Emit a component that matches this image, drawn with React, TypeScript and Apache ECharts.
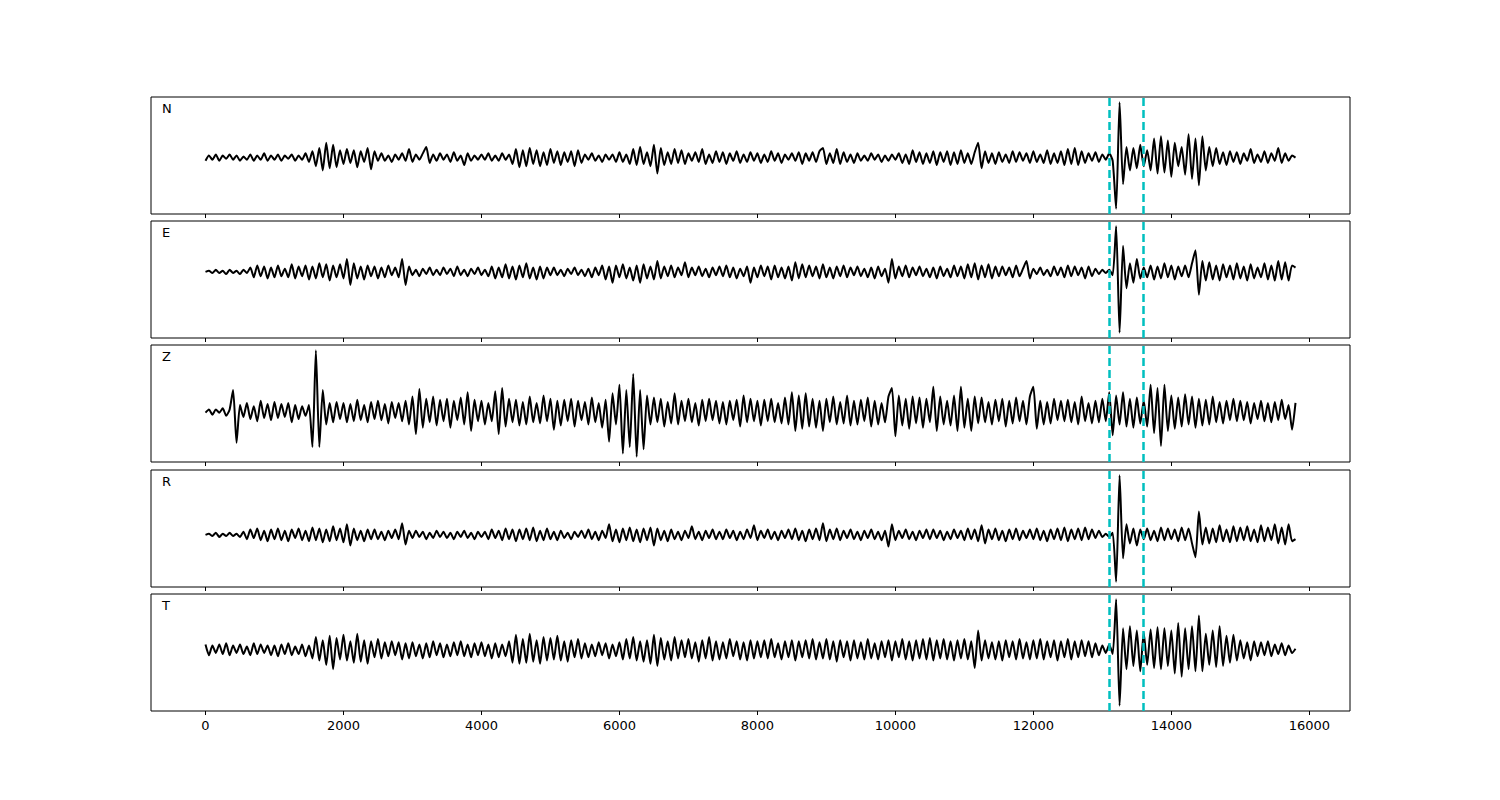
import React, { useEffect, useRef } from "react";
import * as echarts from "echarts";

// sample spacing of the traces (x units)
const STEP = 50;

const components = ["N", "E", "Z", "R", "T"];
const pickTimes = [13100, 13600];
const xTicks = [0, 2000, 4000, 6000, 8000, 10000, 12000, 14000, 16000];

// amplitudes (arbitrary units), one value every STEP
const traceN = [
  -3, 2, -2, 3, -3, 2, -1, 3, -2, 2,
  -3, 1, -2, 3, -3, 2, -2, 4, -3, 2,
  -2, 3, -3, 2, -1, 3, -3, 2, -2, 4,
  -4, 6, -8, 9, -12, 14, -10, 12, -9, 7,
  -6, 8, -5, 7, -9, 6, -4, 9, -11, 6,
  -3, 4, -3, 2, -4, 3, -2, 4, -3, 8,
  -4, 3, -2, 4, 10, -5, 3, -3, 4, -2,
  3, -4, 5, -3, 2, -7, 4, -3, 2, -2,
  3, -2, 4, -3, 2, -3, 4, -2, 3, -6,
  8, -9, 7, -8, 9, -6, 7, -8, 5, -7,
  8, -5, 6, -7, 5, -4, 6, -8, 7, -5,
  3, -2, 4, -3, 2, -4, 3, -2, 3, -4,
  5, -4, 3, -6, 8, -7, 10, -6, 5, -8,
  12, -15, 9, -7, 5, -6, 8, -5, 7, -6,
  4, -3, 5, -4, 8, -6, 3, -5, 6, -4,
  5, -6, 4, -3, 6, -5, 3, -4, 5, -3,
  4, -5, 3, -4, 6, -3, 4, -5, 3, -2,
  4, -3, 5, -6, 4, -3, 5, -4, 6, 9,
  -6, 4, -5, 8, -6, 5, -4, 3, -5, 4,
  -3, 2, -3, 4, -2, 3, -4, 2, -3, 3,
  -2, 4, -5, 3, -6, 7, -4, 5, -6, 4,
  -5, 6, -7, 5, -4, 6, -7, 5, -6, 7,
  -5, 4, -6, 5, 14, -10, 6, -5, 4, -6,
  5, -4, 3, -5, 6, -4, 5, -3, 4, -5,
  6, -4, 3, -5, 7, -6, 4, -5, 6, -7,
  8, -6, 9, -7, 6, -5, 4, -3, 5, -4,
  3, -2, 4, -3, -48, 52, -25, 10, -12, 9,
  -10, 12, -8, 7, -12, 18, -15, 20, -14, 16,
  -18, 14, -8, 10, -16, 22, -20, 18, -26, 20,
  -12, 10, -8, 9, -6, 5, -7, 6, -4, 5,
  -6, 4, -3, 8, -5, 3, -4, 6, -5, 4,
  -3, 9, -5, 4, -3, 2, 0,
];

const traceE = [
  0, 1, -1, 2, -1, 1, -2, 2, -1, 1,
  -2, 2, -1, 4, -5, 6, -4, 5, -6, 4,
  -5, 6, -4, 3, -5, 7, -6, 5, -4, 6,
  -7, 5, -6, 8, -5, 7, -8, 6, -5, 7,
  -6, 12, -12, 8, -6, 5, -7, 6, -4, 5,
  -6, 4, -5, 6, -3, 4, -5, 12, -12, 5,
  -3, 2, -4, 3, -2, 4, -3, 2, -3, 4,
  -2, 3, -4, 5, -3, 2, -4, 3, -2, 4,
  -3, 2, -4, 5, -6, 4, -5, 7, -6, 5,
  -7, 6, -5, 8, -6, 4, -7, 5, -6, 4,
  -3, 4, -3, 2, -4, 3, -2, 4, -3, 2,
  -4, 3, -5, 4, -3, 6, -7, 5, -10, 6,
  -5, 7, -6, 4, -8, 6, -10, 7, -6, 5,
  -7, 10, -6, 5, -4, 6, -5, 4, -3, 9,
  -5, 4, -3, 5, -4, 3, -5, 4, -3, 5,
  -4, 6, -5, 4, -6, 3, -4, 5, -10, 4,
  -5, 6, -4, 5, -7, 6, -5, 4, -6, 5,
  -8, 9, -6, 7, -5, 6, -4, 5, -6, 7,
  -5, 4, -6, 5, -4, 6, -5, 4, -3, 5,
  -4, 3, -5, 4, -6, 5, -4, 3, -10, 12,
  -6, 5, -4, 6, -5, 4, -3, 5, -4, 3,
  -5, 4, -6, 5, -4, 3, -5, 6, -4, 5,
  -6, 7, -5, 8, -7, 6, -5, 7, -6, 5,
  -4, 5, -3, 4, -5, 6, -4, 3, 10, -6,
  3, -2, 4, -3, 2, -4, 5, -3, 4, -5,
  6, -4, 5, -3, 4, -6, 5, -4, 3, -2,
  2, -1, 2, -3, 42, -56, 24, -15, 8, -10,
  12, -6, 4, -5, 6, -7, 5, -6, 8, -5,
  6, -7, 5, -4, 6, -5, 8, 20, -21, 10,
  -8, 9, -7, 6, -8, 7, -5, 6, -7, 8,
  -6, 5, -8, 7, -6, 4, -5, 8, -7, 6,
  -8, 10, -7, 9, -8, 6, 4,
];

const traceZ = [
  -1, 2, -3, 2, -1, 3, -4, 2, 20, -29,
  6, -5, 8, -7, 5, -9, 10, -6, 7, -8,
  9, -6, 7, -5, 8, -10, 6, -7, 5, -4,
  6, -33, 57, -33, 20, -12, 8, -10, 9, -7,
  8, -10, 7, -9, 11, -8, 6, -10, 9, -7,
  10, -8, 7, -11, 9, -6, 8, -9, 10, -12,
  14, -21, 21, -15, 12, -10, 14, -13, 11, -9,
  12, -15, 10, -8, 13, -12, 18, -18, 11, -9,
  10, -12, 8, -9, 19, -21, 22, -14, 12, -10,
  11, -13, 9, -12, 14, -10, 8, -11, 15, -9,
  12, -17, 10, -13, 11, -9, 12, -14, 10, -8,
  9, -12, 13, -10, 8, -15, 11, -28, 17, -12,
  25, -39, 20, -33, 35, -42, 20, -35, 15, -12,
  13, -10, 12, -14, 9, -11, 17, -12, 10, -9,
  12, -10, 8, -13, 11, -9, 12, -8, 10, -11,
  9, -12, 10, -8, 11, -14, 15, -10, 12, -9,
  10, -13, 11, -9, 12, -10, 8, -11, 13, -12,
  18, -18, 15, -16, 17, -14, 12, -15, 10, -18,
  12, -10, 14, -12, 9, -11, 15, -13, 10, -12,
  11, -9, 13, -14, 10, -12, 8, -10, 14, 22,
  -23, 15, -13, 12, -16, 14, -11, 13, -15, 12,
  -10, 23, -18, 14, -12, 10, -13, 15, -18, 23,
  -15, 12, -18, 14, -11, 13, -10, 9, -12, 11,
  -9, 12, -14, 10, -11, 13, -9, 10, -12, 14,
  23, -16, 10, -12, 9, -11, 12, -8, 10, -9,
  11, -10, 9, -12, 14, -9, 8, -11, 10, -10,
  12, -9, 18, -22, 15, -12, 18, -14, 12, -15,
  13, -11, 10, -14, 25, -20, 22, -32, 25, -18,
  15, -16, 13, -14, 16, -12, 14, -15, 12, -13,
  11, -12, 14, -10, 9, -11, 10, -8, 12, -9,
  10, -8, 9, -11, 8, -7, 10, -9, 8, -10,
  9, -8, 11, -7, 6, -17, 8,
];

const traceR = [
  0, 1, -1, 2, -2, 1, -1, 2, -1, 1,
  -2, 3, -4, 5, -3, 6, -5, 4, -6, 5,
  -4, 6, -5, 4, -6, 5, -3, 6, -5, 4,
  -6, 7, -5, 6, -7, 5, -6, 8, -5, 6,
  -7, 10, -10, 6, -5, 4, -6, 5, -4, 5,
  -4, 3, -5, 4, -3, 5, -4, 11, -9, 4,
  -3, 4, -2, 3, -4, 2, -3, 4, -2, 3,
  -3, 2, -4, 3, -2, 4, -3, 2, -4, 3,
  -2, 3, -4, 5, -3, 4, -5, 6, -4, 5,
  -6, 5, -4, 6, -5, 7, -6, 4, -5, 6,
  -4, 3, -5, 4, -3, 2, -4, 3, -2, 4,
  -3, 5, -4, 3, -5, 4, -3, 10, -6, 5,
  -7, 6, -5, 7, -6, 5, -7, 6, -5, 7,
  -10, 6, -5, 4, -6, 5, -4, 3, -5, 4,
  -3, 8, -4, 3, -5, 4, -3, 5, -4, 3,
  -4, 5, -3, 4, -5, 3, -4, 5, -3, 9,
  -5, 4, -3, 5, -4, 3, -5, 4, -3, 5,
  -4, 6, -5, 4, -6, 5, -4, 6, -5, 11,
  -6, 5, -4, 6, -5, 4, -3, 5, -4, 3,
  -5, 4, -3, 5, -4, 3, -5, 4, -11, 10,
  -5, 4, -3, 5, -4, 3, -5, 4, -3, 5,
  -4, 5, -3, 4, -5, 3, -4, 5, -3, 4,
  -5, 6, -4, 5, -6, 9, -8, 5, -4, 6,
  -5, 4, -6, 5, -4, 6, -5, 4, -3, 5,
  -4, 6, -5, 4, -6, 5, -4, 6, -5, 7,
  -6, 5, -4, 6, -5, 7, -4, 5, -3, 4,
  -2, 1, -2, 2, -44, 56, -22, 10, -8, 6,
  -10, 5, -4, 6, -5, 4, -6, 7, -5, 6,
  -4, 5, -6, 7, -5, 6, -8, -21, 22, -9,
  7, -8, 6, -7, 9, -6, 5, -7, 8, -6,
  7, -5, 8, -6, 5, -7, 9, -6, 7, -5,
  10, -8, 7, -9, 10, -6, -4,
];

const traceT = [
  5, -5, 4, -3, 5, -4, 6, -5, 4, -3,
  5, -4, 3, -5, 6, -4, 5, -3, 4, -5,
  4, -6, 5, -4, 6, -5, 3, -4, 5, -6,
  4, -8, 12, -10, 9, -14, 13, -18, 11, -9,
  14, -10, 8, -12, 15, -11, 9, -13, 8, -7,
  10, -8, 7, -6, 8, -5, 7, -9, 6, -8,
  7, -6, 5, -8, 6, -7, 8, -5, 6, -7,
  5, -6, 7, -5, 8, -6, 5, -7, 6, -5,
  7, -6, 5, -8, 6, -7, 5, -6, 8, -12,
  14, -13, 10, -12, 15, -11, 9, -13, 12, -10,
  11, -9, 13, -10, 8, -11, 9, -7, 10, -8,
  6, -7, 5, -6, 7, -5, 6, -8, 5, -6,
  7, -9, 10, -8, 12, -10, 8, -11, 9, -13,
  14, -15, 11, -9, 8, -10, 12, -8, 9, -7,
  10, -8, 7, -11, 9, -8, 12, -10, 8, -9,
  7, -8, 10, -6, 8, -9, 7, -10, 9, -8,
  8, -7, 9, -8, 10, -7, 6, -9, 8, -7,
  9, -10, 8, -7, 9, -8, 10, -9, 7, -8,
  10, -9, 8, -11, 9, -7, 8, -10, 9, -8,
  7, -9, 10, -8, 6, -9, 8, -7, 9, -10,
  8, -7, 10, -9, 8, -10, 9, -8, 10, -9,
  11, -10, 9, -8, 10, -9, 8, -10, 9, -8,
  10, -9, 8, -17, 18, -10, 9, -8, 7, -9,
  8, -10, 9, -7, 8, -9, 10, -8, 7, -9,
  9, -8, 10, -9, 8, -7, 9, -10, 8, -7,
  10, -9, 8, -7, 9, -6, 8, -7, 6, -5,
  4, -3, 5, -4, 47, -52, 20, -18, 22, -15,
  18, -20, 16, -14, 19, -17, 21, -18, 20, -15,
  18, -22, 25, -25, 20, -18, 22, -20, 32, -20,
  15, -14, 18, -16, 22, -15, 13, -12, 14, -10,
  9, -8, 7, -10, 8, -6, 7, -5, 8, -6,
  5, -4, 6, -5, 4, -3, 1,
];

const traces = [traceN, traceE, traceZ, traceR, traceT];

const X_MIN = -790;
const X_MAX = 16590;
const PANEL_TOPS = [97, 221, 345, 470, 594];
const PANEL_H = 117;
const PANEL_LEFT = 151;
const PANEL_W = 1199;

export default function App() {
  const ref = useRef<HTMLDivElement>(null);

  useEffect(() => {
    if (!ref.current) return;
    const chart = echarts.init(ref.current, null, { renderer: "svg" });
    const n = traces.length;

    const grid = traces.map((_, i) => ({
      left: PANEL_LEFT,
      top: PANEL_TOPS[i],
      width: PANEL_W,
      height: PANEL_H,
      show: true,
      borderColor: "#000",
      borderWidth: 1,
      backgroundColor: "transparent",
    }));

    const xAxis = traces.map((_, i) => ({
      type: "value",
      gridIndex: i,
      position: "bottom",
      min: X_MIN,
      max: X_MAX,
      axisLine: { show: false, onZero: false },
      splitLine: { show: false },
      axisTick: {
        show: true,
        length: 4,
        customValues: xTicks,
        lineStyle: { color: "#000", width: 1 },
      },
      axisLabel: {
        show: i === n - 1,
        customValues: xTicks,
        formatter: (v: number) => String(v),
        color: "#000",
        fontFamily: "DejaVu Sans",
        fontSize: 13,
        margin: 8,
      },
    }));

    const yAxis = traces.map((tr, i) => {
      const mn = Math.min(...tr);
      const mx = Math.max(...tr);
      const pad = (mx - mn) * 0.05;
      return {
        type: "value",
        gridIndex: i,
        min: mn - pad,
        max: mx + pad,
        show: false,
        splitLine: { show: false },
      };
    });

    const series = traces.map((tr, i) => ({
      type: "line",
      xAxisIndex: i,
      yAxisIndex: i,
      data: tr.map((v, k) => [k * STEP, v]),
      showSymbol: false,
      smooth: 0.2,
      lineStyle: { color: "#000", width: 2 },
      silent: true,
      z: 2,
      markLine: {
        silent: true,
        symbol: "none",
        label: { show: false },
        lineStyle: { color: "#00BFBF", width: 2.5, type: [8, 4] },
        data: pickTimes.map((t) => ({ xAxis: t })),
        z: 3,
      },
    }));

    const graphic = components.map((c, i) => ({
      type: "text",
      left: 162,
      top: PANEL_TOPS[i] + 5,
      style: {
        text: c,
        fill: "#000",
        font: "13px 'DejaVu Sans'",
      },
    }));

    chart.setOption({
      animation: false,
      backgroundColor: "#fff",
      grid,
      xAxis,
      yAxis,
      series,
      graphic,
    });

    return () => chart.dispose();
  }, []);

  return (
    <div
      ref={ref}
      style={{ position: "fixed", left: 0, top: 0, width: 1500, height: 800, background: "#fff" }}
    />
  );
}
